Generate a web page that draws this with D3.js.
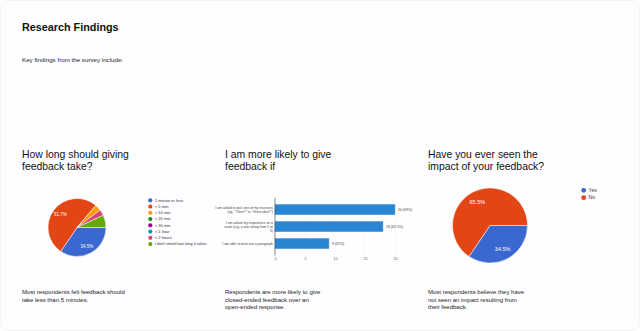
<!DOCTYPE html>
<html><head><meta charset="utf-8">
<script src="https://cdn.jsdelivr.net/npm/d3@7"></script>
<style>
html,body{margin:0;padding:0;background:#fff;}
svg{display:block;font-family:"Liberation Sans",Arial,sans-serif;}
</style></head><body>
<svg id="c" width="640" height="331"></svg>
<script>
// ---- data ----
const pageTitle = "Research Findings";
const pageSubtitle = "Key findings from the survey include:";
const totalRespondents = 29;

const durationTitle = ["How long should giving", "feedback take?"];
const durationCategories = ["1 minute or less", "< 5 min.", "< 10 min.", "< 20 min.", "< 30 min.", "< 1 hour", "< 2 hours", "I don't mind how long it takes."];
const durationCounts = [10, 15, 1, 0, 0, 0, 1, 2];
const durationColors = ["#3a67d0", "#e24614", "#ff9c00", "#109618", "#990099", "#0099c6", "#dd4477", "#66aa00"];
const durationNote = ["Most respondents felt feedback should", "take less than 5 minutes."];

const preferenceTitle = ["I am more likely to give", "feedback if"];
const preferenceCategories = [
  ["I am asked to pick one of my reactions", "(eg. \"Yikes!!\" or \"Great idea!!\")"],
  ["I am asked my experience on a", "scale (e.g. a star rating from 1 to", "5)"],
  ["I am able to write out a paragraph"]
];
const preferenceCounts = [20, 18, 9];
const preferenceTicks = [0, 5, 10, 15, 20];
const preferenceNote = ["Respondents are more likely to give", "closed-ended feedback over an", "open-ended response."];

const impactTitle = ["Have you ever seen the", "impact of your feedback?"];
const impactCategories = ["Yes", "No"];
const impactCounts = [10, 19];
const impactColors = ["#3a67d0", "#e24614"];
const impactNote = ["Most respondents believe they have", "not seen an impact resulting from", "their feedback."];

// ---- drawing ----
const svg = d3.select("#c");
svg.append("rect").attr("x",0.5).attr("y",0.5).attr("width",639).attr("height",330)
  .attr("rx",8).attr("fill","#fefdff").attr("stroke","#f3f3f3");

svg.append("text").attr("x",22).attr("y",31).attr("font-size",10.8).attr("font-weight","bold")
  .attr("fill","#111").text(pageTitle);
svg.append("text").attr("x",22).attr("y",62).attr("font-size",6.2).attr("fill","#222").text(pageSubtitle);

function lines(x, y, arr, size, lh, color) {
  const t = svg.append("text").attr("x",x).attr("y",y).attr("font-size",size).attr("fill",color);
  arr.forEach((s,i)=> t.append("tspan").attr("x",x).attr("dy", i===0?0:lh).text(s));
  return t;
}
lines(22, 157.8, durationTitle, 10.4, 12.2, "#111");
lines(225, 157.8, preferenceTitle, 10.4, 12.2, "#111");
lines(428, 157.8, impactTitle, 10.4, 12.2, "#111");

lines(22, 294, durationNote, 6, 7.6, "#222");
lines(225, 294, preferenceNote, 6, 7.6, "#222");
lines(428, 294, impactNote, 6, 7.6, "#222");

function drawPie(cx, cy, r, counts, colors, fontSize) {
  const total = d3.sum(counts);
  const pie = d3.pie().sort(null).startAngle(Math.PI/2).endAngle(Math.PI/2 + 2*Math.PI);
  const arcs = pie(counts);
  const arc = d3.arc().innerRadius(0).outerRadius(r);
  const lab = d3.arc().innerRadius(r*0.72).outerRadius(r*0.72);
  const g = svg.append("g").attr("transform",`translate(${cx},${cy})`);
  g.selectAll("path").data(arcs.filter(d=>d.value>0)).join("path")
    .attr("d",arc).attr("fill",d=>colors[d.index]).attr("stroke","#fff").attr("stroke-width",0.5);
  g.selectAll("text").data(arcs.filter(d=>d.value/total>0.1)).join("text")
    .attr("transform",d=>{const c=lab.centroid(d);return `translate(${c[0]},${c[1]})`;})
    .attr("text-anchor","middle").attr("dy","0.35em").attr("font-size",fontSize).attr("fill","#fff")
    .text(d=>(d.value/total*100).toFixed(1)+"%");
}
function drawLegend(x, y, cats, colors, step, fontSize, r) {
  const g = svg.append("g");
  cats.forEach((c,i)=>{
    g.append("circle").attr("cx",x).attr("cy",y+i*step).attr("r",r).attr("fill",colors[i]);
    g.append("text").attr("x",x+r+2.5).attr("y",y+i*step).attr("dy","0.35em")
      .attr("font-size",fontSize).attr("fill","#333").text(c);
  });
}

drawPie(77, 227.5, 29, durationCounts, durationColors, 4.5);
drawLegend(150.3, 200.3, durationCategories, durationColors, 6.25, 4, 2.1);

drawPie(490, 225.5, 37.5, impactCounts, impactColors, 5.5);
drawLegend(583.7, 190.3, impactCategories, impactColors, 7.4, 5, 2.4);

// bar chart
const x = d3.scaleLinear().domain([0,20]).range([275,395]);
const y = d3.scaleBand().domain(d3.range(preferenceCounts.length)).range([197.8,255.3])
  .paddingInner(0.382).paddingOuter(0.382);
const bg = svg.append("g");
bg.selectAll("line.grid").data(preferenceTicks.slice(1)).join("line")
  .attr("x1",d=>x(d)).attr("x2",d=>x(d)).attr("y1",197.8).attr("y2",255.3)
  .attr("stroke","#f0f0f0").attr("stroke-width",0.5);
bg.selectAll("rect").data(preferenceCounts).join("rect")
  .attr("x",x(0)).attr("y",(d,i)=>y(i)).attr("width",d=>x(d)-x(0)).attr("height",y.bandwidth())
  .attr("fill","#2886d3").attr("stroke","#6fb0e6").attr("stroke-width",0.4);
bg.selectAll("text.val").data(preferenceCounts).join("text")
  .attr("x",d=>x(d)+3).attr("y",(d,i)=>y(i)+y.bandwidth()/2).attr("dy","0.35em")
  .attr("font-size",3.5).attr("fill","#444")
  .text(d=>`${d} (${Math.round(d/totalRespondents*1000)/10}%)`);
preferenceCategories.forEach((ls,i)=>{
  const cy = y(i)+y.bandwidth()/2;
  const lh = 4.2;
  const t = bg.append("text").attr("text-anchor","end").attr("font-size",3.4).attr("fill","#444");
  ls.forEach((s,j)=> t.append("tspan").attr("x",273).attr("y", cy + (j-(ls.length-1)/2)*lh).attr("dy","0.35em").text(s));
});
const ax = bg.append("g").attr("transform","translate(0,255.3)")
  .call(d3.axisBottom(x).tickValues(preferenceTicks).tickSize(0).tickPadding(2.5));
ax.select(".domain").remove();
ax.selectAll("text").attr("font-size",3.6).attr("fill","#555").attr("font-family","Liberation Sans, Arial, sans-serif");
bg.append("line").attr("x1",x(0)).attr("x2",x(0)).attr("y1",197.8).attr("y2",255.3)
  .attr("stroke","#333").attr("stroke-width",0.6);
</script>
</body></html>
